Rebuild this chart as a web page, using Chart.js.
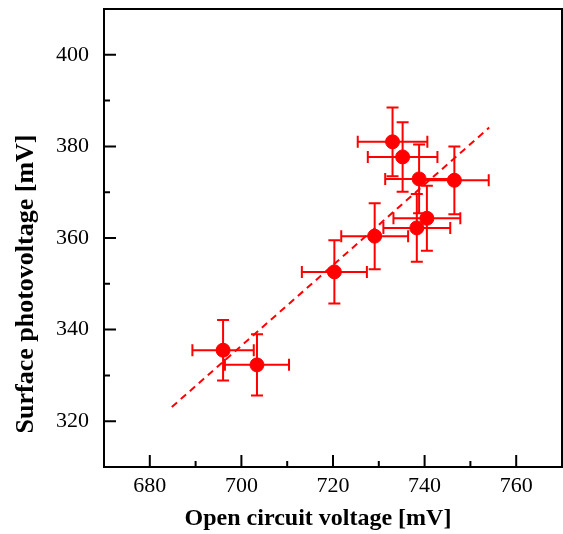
<!DOCTYPE html>
<html>
<head>
<meta charset="utf-8">
<script src="https://cdn.jsdelivr.net/npm/chart.js@4/dist/chart.umd.min.js"></script>
<style>
  html, body { margin: 0; padding: 0; background: #fff; }
  #wrap { width: 563px; height: 534px; }
</style>
</head>
<body>
<div id="wrap"><canvas id="scatter-chart" width="563" height="534"></canvas></div>
<script>
// measured points (mV)
const ocVoltage = [696.0, 703.4, 720.3, 729.1, 733.0, 735.2, 738.8, 746.5, 740.5, 738.3];
const spVoltage = [335.5, 332.3, 352.6, 360.4, 381.0, 377.7, 372.9, 372.6, 364.3, 362.2];
const ocError = [6.7, 7.0, 7.1, 7.3, 7.6, 7.6, 7.4, 7.5, 7.3, 7.3];
const spError = [6.6, 6.7, 6.9, 7.2, 7.5, 7.6, 7.5, 7.4, 7.1, 7.4];

// linear fit line end points
const fitX = [684.8, 754.1];
const fitY = [323.1, 384.1];

const xTicks = [680, 700, 720, 740, 760];
const yTicks = [320, 340, 360, 380, 400];

const RED = "rgb(255, 0, 0)";

const scatterData = ocVoltage.map((v, i) => ({ x: v, y: spVoltage[i] }));
const fitData = fitX.map((v, i) => ({ x: v, y: fitY[i] }));

const errorBars = {
  id: "errorBars",
  beforeDatasetsDraw(chart) {
    const { ctx, scales } = chart;
    const cap = 6;
    ctx.save();
    ctx.strokeStyle = RED;
    ctx.lineWidth = 2;
    scatterData.forEach((p, i) => {
      const px = scales.x.getPixelForValue(p.x);
      const py = scales.y.getPixelForValue(p.y);
      const x1 = scales.x.getPixelForValue(p.x - ocError[i]);
      const x2 = scales.x.getPixelForValue(p.x + ocError[i]);
      const y1 = scales.y.getPixelForValue(p.y - spError[i]);
      const y2 = scales.y.getPixelForValue(p.y + spError[i]);
      ctx.beginPath();
      ctx.moveTo(x1, py); ctx.lineTo(x2, py);
      ctx.moveTo(x1, py - cap); ctx.lineTo(x1, py + cap);
      ctx.moveTo(x2, py - cap); ctx.lineTo(x2, py + cap);
      ctx.moveTo(px, y1); ctx.lineTo(px, y2);
      ctx.moveTo(px - cap, y1); ctx.lineTo(px + cap, y1);
      ctx.moveTo(px - cap, y2); ctx.lineTo(px + cap, y2);
      ctx.stroke();
    });
    ctx.restore();
  },
};

const frame = {
  id: "frame",
  afterDraw(chart) {
    const { ctx, chartArea: a, scales } = chart;
    ctx.save();
    ctx.strokeStyle = "#000";
    ctx.lineWidth = 2;
    ctx.strokeRect(a.left, a.top, a.right - a.left, a.bottom - a.top);
    ctx.beginPath();
    for (let v = 680; v < 770; v += 10) {
      const x = scales.x.getPixelForValue(v);
      const len = v % 20 === 0 ? 12 : 6;
      ctx.moveTo(x, a.bottom); ctx.lineTo(x, a.bottom - len);
    }
    for (let v = 320; v < 410; v += 10) {
      const y = scales.y.getPixelForValue(v);
      const len = v % 20 === 0 ? 12 : 6;
      ctx.moveTo(a.left, y); ctx.lineTo(a.left + len, y);
    }
    ctx.stroke();

    ctx.fillStyle = "#000";
    ctx.textAlign = "center";
    ctx.textBaseline = "middle";
    ctx.font = "bold 24px 'Liberation Serif'";
    ctx.fillText("Open circuit voltage [mV]", 318, 519);
    ctx.translate(26, 284);
    ctx.rotate(-Math.PI / 2);
    ctx.font = "bold 26px 'Liberation Serif'";
    ctx.fillText("Surface photovoltage [mV]", 0, 0);
    ctx.restore();
  },
};

function noPad(scale) {
  scale.paddingTop = 0;
  scale.paddingBottom = 0;
  scale.paddingLeft = 0;
  scale.paddingRight = 0;
}

const config = {
  type: "scatter",
  data: {
    datasets: [
      {
        label: "fit",
        type: "line",
        data: fitData,
        borderColor: RED,
        borderWidth: 2,
        borderDash: [7, 5],
        pointRadius: 0,
        fill: false,
      },
      {
        label: "SPV",
        data: scatterData,
        backgroundColor: RED,
        borderColor: RED,
        pointRadius: 7,
        pointHoverRadius: 7,
      },
    ],
  },
  options: {
    responsive: false,
    animation: false,
    layout: { autoPadding: false, padding: { top: 9, right: 1, left: 0, bottom: 0 } },
    plugins: {
      legend: { display: false },
      tooltip: { enabled: false },
    },
    scales: {
      x: {
        type: "linear",
        min: 670,
        max: 770,
        grid: { display: false, drawTicks: false },
        border: { display: false },
        afterFit(scale) { scale.height = 67; noPad(scale); },
        ticks: {
          stepSize: 10,
          padding: 6,
          color: "#000",
          font: { family: "'Liberation Serif'", size: 22 },
          callback: (v) => (xTicks.includes(v) ? v : ""),
        },
      },
      y: {
        type: "linear",
        min: 310,
        max: 410,
        grid: { display: false, drawTicks: false },
        border: { display: false },
        afterFit(scale) { scale.width = 104; noPad(scale); },
        ticks: {
          stepSize: 10,
          padding: 15,
          color: "#000",
          font: { family: "'Liberation Serif'", size: 22 },
          callback: (v) => (yTicks.includes(v) ? v : ""),
        },
      },
    },
  },
  plugins: [errorBars, frame],
};

var ctx = document.getElementById("scatter-chart").getContext("2d");
var myChart = new Chart(ctx, config);
</script>
</body>
</html>
